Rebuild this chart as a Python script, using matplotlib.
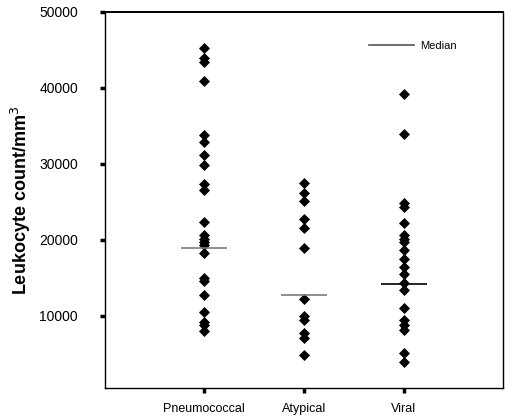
import matplotlib
matplotlib.use("Agg")
import matplotlib.pyplot as plt
from matplotlib.lines import Line2D

matplotlib.rcParams["font.family"] = ["Liberation Sans", "DejaVu Sans"]

# leukocyte counts per group
groups = ["Pneumococcal", "Atypical", "Viral"]
pneumococcal = [45200, 44000, 43350, 40950, 33800, 32900, 31200, 29800, 27300, 26550,
                22350, 20600, 20100, 19700, 19300, 18250, 14900, 14500, 12650, 10400,
                9200, 8800, 8000]
atypical = [27450, 26150, 25050, 22700, 21600, 18900, 12150, 9950, 9450, 7650, 7000, 4800]
viral = [39150, 33950, 24800, 24350, 22250, 20600, 20150, 19700, 18600, 17500, 16400,
         15500, 14250, 13300, 11050, 9450, 8750, 8050, 5000, 3900]
medians = [18850, 12700, 14100]
median_colors = ["#7a7a7a", "#7a7a7a", "black"]
yticks = [10000, 20000, 30000, 40000, 50000]

fig = plt.figure(figsize=(5.05, 4.18), dpi=100)
ax = fig.add_axes([105 / 505, 1 - 388 / 418, 398 / 505, 376 / 418])

for i, vals in enumerate([pneumococcal, atypical, viral]):
    x = i + 1
    ax.plot([x] * len(vals), vals, linestyle="none", marker="D", markersize=4.6,
            color="black", markeredgewidth=0.5)
    ax.hlines(medians[i], x - 0.23, x + 0.23, color=median_colors[i], linewidth=1.2)

ax.set_xlim(0.01, 3.99)
ax.set_ylim(450, 50000)
ax.set_xticks([1, 2, 3])
ax.set_xticklabels(groups, fontsize=9)
ax.set_yticks(yticks)
ax.set_yticklabels([str(t) for t in yticks], fontsize=10)
ax.tick_params(axis="y", direction="out", length=3.5, width=2.5, pad=16)
ax.tick_params(axis="x", direction="out", length=3.5, width=2.5, pad=7)
for s in ax.spines.values():
    s.set_linewidth(1.0)
ax.spines["top"].set_linewidth(1.4)

ax.set_ylabel("Leukocyte count/mm$^3$", fontsize=13, fontweight="bold", labelpad=4)

handle = Line2D([], [], color="#555555", linewidth=1.2)
ax.legend([handle], ["Median"], frameon=False, loc="center left",
          bbox_to_anchor=(0.663, 0.91), borderpad=0, borderaxespad=0,
          handlelength=4.1, handletextpad=0.5, fontsize=8)

fig.savefig("out.png", dpi=100)
